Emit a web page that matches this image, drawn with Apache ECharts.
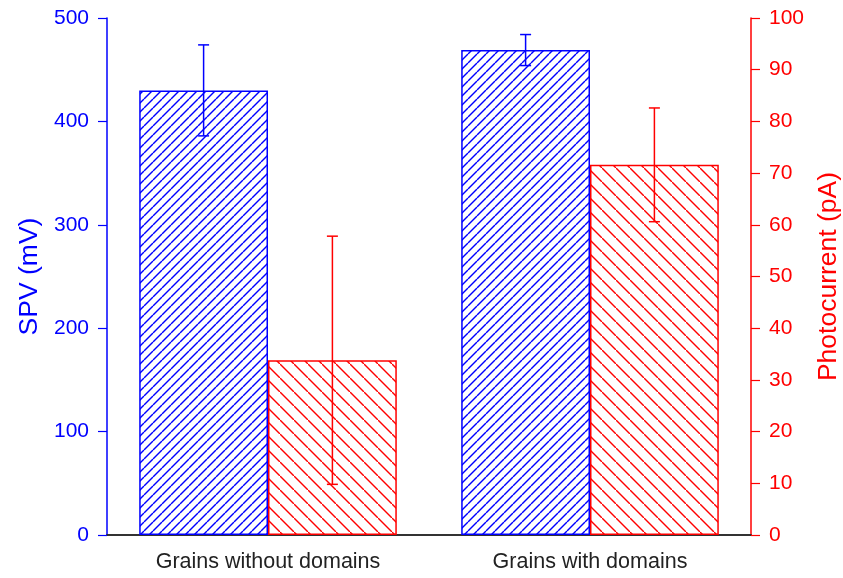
<!DOCTYPE html>
<html>
<head>
<meta charset="utf-8">
<script src="https://cdn.jsdelivr.net/npm/echarts@6/dist/echarts.min.js"></script>
<style>
  html, body { margin: 0; padding: 0; background: #fff; }
  #chart { width: 843px; height: 578px; }
</style>
</head>
<body>
<div id="chart"></div>
<script>
const categories = ['Grains without domains', 'Grains with domains'];
const spvValues = [430, 469];
const spvErrors = [44, 15];
const currentValues = [33.8, 71.6];
const currentErrors = [24, 11];

const BLUE = '#0000ff';
const RED = '#ff0000';
const FONT = '"Liberation Sans", Arial, sans-serif';

// hatch tile: dir 1 => '/', dir -1 => '\'
function hatch(color, size, dir) {
  const c = document.createElement('canvas');
  c.width = size;
  c.height = size;
  const ctx = c.getContext('2d');
  ctx.fillStyle = '#fff';
  ctx.fillRect(0, 0, size, size);
  ctx.strokeStyle = color;
  ctx.lineWidth = 1.4;
  for (const x0 of [-size, 0, size]) {
    ctx.beginPath();
    if (dir > 0) {
      ctx.moveTo(x0, size);
      ctx.lineTo(x0 + size, 0);
    } else {
      ctx.moveTo(x0, 0);
      ctx.lineTo(x0 + size, size);
    }
    ctx.stroke();
  }
  return c;
}

// error bar drawn at left (-1) or right (+1) bar of the category
function errorBar(side, color) {
  return function (params, api) {
    const idx = api.value(0);
    const cw = api.size([1, 0])[0];
    const x = api.coord([idx, 0])[0] + side * 0.2 * cw;
    const yHi = api.coord([idx, api.value(2)])[1];
    const yLo = api.coord([idx, api.value(1)])[1];
    const cap = 5.5;
    const style = { stroke: color, lineWidth: 1.5 };
    return {
      type: 'group',
      children: [
        { type: 'line', shape: { x1: x, y1: yHi, x2: x, y2: yLo }, style },
        { type: 'line', shape: { x1: x - cap, y1: yHi, x2: x + cap, y2: yHi }, style },
        { type: 'line', shape: { x1: x - cap, y1: yLo, x2: x + cap, y2: yLo }, style }
      ]
    };
  };
}

const spvErrData = spvValues.map((v, i) => [i, v - spvErrors[i], v + spvErrors[i]]);
const curErrData = currentValues.map((v, i) => [i, v - currentErrors[i], v + currentErrors[i]]);

const chart = echarts.init(document.getElementById('chart'));
chart.setOption({
  animation: false,
  backgroundColor: '#fff',
  textStyle: { fontFamily: FONT },
  grid: { left: 107, right: 92, top: 18, bottom: 43, outerBoundsMode: 'none' },
  xAxis: [
    {
      type: 'category',
      data: categories,
      boundaryGap: true,
      axisLine: { lineStyle: { color: '#333', width: 1.5 } },
      axisTick: { alignWithLabel: true, length: 9, lineStyle: { color: '#333', width: 1.2 } },
      axisLabel: { color: '#222', fontSize: 21.5, fontFamily: FONT, margin: 16 }
    },
    {
      type: 'category',
      data: categories,
      position: 'top',
      axisLine: { lineStyle: { color: '#222', width: 1.5 } },
      axisTick: { show: false },
      axisLabel: { show: false }
    }
  ],
  yAxis: [
    {
      type: 'value',
      min: 0,
      max: 500,
      interval: 100,
      position: 'left',
      name: 'SPV (mV)',
      nameLocation: 'middle',
      nameRotate: 90,
      nameGap: 64,
      nameTextStyle: { color: BLUE, fontSize: 26.5, fontFamily: FONT },
      axisLine: { show: true, lineStyle: { color: BLUE, width: 1.5 } },
      axisTick: { show: true, length: 9, lineStyle: { color: BLUE, width: 1.2 } },
      axisLabel: { color: BLUE, fontSize: 21, fontFamily: FONT, margin: 18 },
      splitLine: { show: false }
    },
    {
      type: 'value',
      min: 0,
      max: 100,
      interval: 10,
      position: 'right',
      name: 'Photocurrent (pA)',
      nameLocation: 'middle',
      nameRotate: 90,
      nameGap: 62,
      nameTextStyle: { color: RED, fontSize: 26.5, fontFamily: FONT },
      axisLine: { show: true, lineStyle: { color: RED, width: 1.5 } },
      axisTick: { show: true, length: 9, lineStyle: { color: RED, width: 1.2 } },
      axisLabel: { color: RED, fontSize: 21, fontFamily: FONT, margin: 18 },
      splitLine: { show: false }
    }
  ],
  series: [
    {
      name: 'SPV',
      type: 'bar',
      yAxisIndex: 0,
      data: spvValues,
      barGap: '0%',
      barCategoryGap: '20%',
      itemStyle: {
        color: { image: hatch(BLUE, 9, 1), repeat: 'repeat' },
        borderColor: BLUE,
        borderWidth: 1.5
      }
    },
    {
      name: 'Photocurrent',
      type: 'bar',
      yAxisIndex: 1,
      data: currentValues,
      barGap: '0%',
      barCategoryGap: '20%',
      itemStyle: {
        color: { image: hatch(RED, 14.5, -1), repeat: 'repeat' },
        borderColor: RED,
        borderWidth: 1.5
      }
    },
    {
      type: 'custom',
      yAxisIndex: 0,
      z: 5,
      renderItem: errorBar(-1, BLUE),
      data: spvErrData
    },
    {
      type: 'custom',
      yAxisIndex: 1,
      z: 5,
      renderItem: errorBar(1, RED),
      data: curErrData
    }
  ]
});
</script>
</body>
</html>
